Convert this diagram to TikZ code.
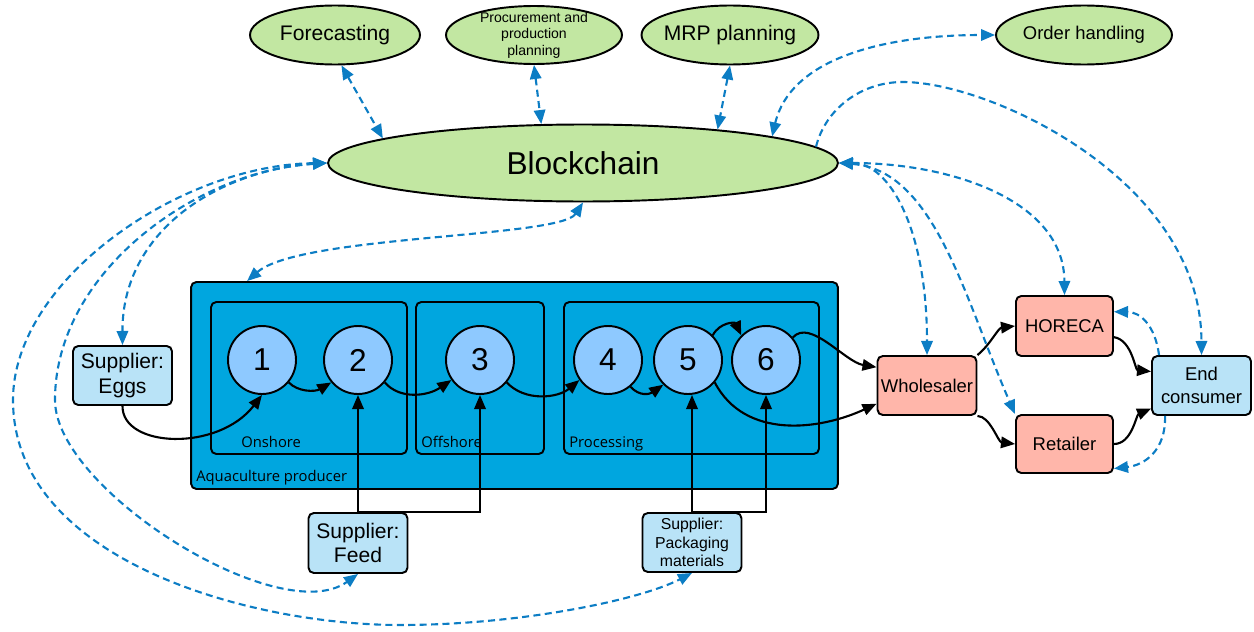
\documentclass[tikz,border=0pt]{standalone}
\usepackage{fontspec}
\setmainfont{Liberation Sans}
\newfontfamily\zonefont{Open Sans}
\usetikzlibrary{shapes.geometric,arrows.meta,calc}

\definecolor{leafgreen}{HTML}{C2E7A2}
\definecolor{aquablue}{HTML}{00A6DF}
\definecolor{stageblue}{HTML}{8EC9FF}
\definecolor{supplierblue}{HTML}{B9E3F7}
\definecolor{tradepink}{HTML}{FFB6AA}
\definecolor{infoblue}{HTML}{0C7DC4}

\begin{document}
\begin{tikzpicture}[x=0.02cm, y=-0.02cm,
  topell/.style={ellipse, draw, line width=1.1pt, fill=leafgreen, inner sep=0pt,
    minimum width=3.52cm, minimum height=1.18cm},
  planlabel/.style={align=center, font=\fontsize{12}{14}\selectfont},
  stage/.style={circle, draw, line width=1.1pt, fill=stageblue, minimum size=1.36cm,
    inner sep=0pt, font=\fontsize{18}{20}\selectfont},
  zone/.style={draw, line width=1.1pt, rounded corners=3pt, inner sep=0pt},
  zonename/.style={anchor=base west, inner sep=0pt, font=\zonefont\fontsize{8.4}{10}\selectfont},
  supplier/.style={draw, line width=1.1pt, fill=supplierblue, rounded corners=3pt,
    minimum width=1.98cm, minimum height=1.18cm, inner sep=0pt, align=center},
  trade/.style={supplier, fill=tradepink},
  flow/.style={line width=1.2pt, -{Triangle[length=8pt,width=6.5pt]}},
  info/.style={line width=1.2pt, infoblue, dash pattern=on 4pt off 2.5pt},
  infoboth/.style={info, {Triangle[length=8pt,width=6.5pt]}-{Triangle[length=8pt,width=6.5pt]}},
  infoto/.style={info, -{Triangle[length=8pt,width=6.5pt]}}
]
\useasboundingbox (0,0) rectangle (1254,632);

% planning functions and the shared ledger
\node[topell, minimum width=3.4cm,
  label={[planlabel]center:Forecasting}] (fc) at (335,35) {};
\node[topell, minimum height=1.16cm,
  label={[planlabel, font=\fontsize{8}{9.4}\selectfont]center:Procurement and\\production\\planning}] (pp) at (534,35) {};
\node[topell, minimum width=3.54cm,
  label={[planlabel]center:MRP planning}] (mrp) at (730,35) {};
\node[topell,
  label={[planlabel, font=\fontsize{10.5}{12}\selectfont]center:Order handling}] (oh) at (1084,35) {};
\node[topell, minimum width=10.2cm, minimum height=1.54cm,
  font=\fontsize{18}{20}\selectfont] (bc) at (583,163) {Blockchain};

% producer with its three sites
\node[zone, fill=aquablue, minimum width=12.94cm, minimum height=4.14cm] (aq) at (514.5,385.5) {};
\node[zone, minimum width=3.92cm, minimum height=3.04cm] (onshore) at (309,378) {};
\node[zone, minimum width=2.56cm, minimum height=3.04cm] (offshore) at (480,378) {};
\node[zone, minimum width=5.1cm, minimum height=3.04cm] (processing) at (691.5,378) {};
\node[zonename] (aqname) at (196,481) {Aquaculture producer};
\node[zonename] (onname) at (241,447) {Onshore};
\node[zonename] (offname) at (421,447) {Offshore};
\node[zonename] (procname) at (569,447) {Processing};

% process stages
\node[stage] (c1) at (262,360) {1};
\node[stage] (c2) at (358,360) {2};
\node[stage] (c3) at (480,360) {3};
\node[stage] (c4) at (608,360) {4};
\node[stage] (c5) at (688,360) {5};
\node[stage] (c6) at (766,360) {6};

% suppliers and downstream actors
\node[supplier, font=\fontsize{12}{14}\selectfont] (eggs) at (122.5,375.5) {Supplier:\\Eggs};
\node[supplier, minimum height=1.2cm, font=\fontsize{12}{14}\selectfont] (feed) at (358,543) {Supplier:\\Feed};
\node[supplier, font=\fontsize{9}{10.6}\selectfont] (pack) at (692,542.5) {Supplier:\\Packaging\\materials};
\node[trade, font=\fontsize{10.5}{12}\selectfont] (whole) at (927,385.5) {Wholesaler};
\node[trade, minimum width=1.94cm, minimum height=1.2cm, font=\fontsize{10.5}{12}\selectfont] (hor) at (1064.5,326) {HORECA};
\node[trade, minimum width=1.94cm, minimum height=1.16cm, font=\fontsize{10.5}{12}\selectfont] (ret) at (1064.5,444) {Retailer};
\node[supplier, font=\fontsize{10.5}{13}\selectfont] (end) at (1201.5,385.5) {End\\consumer};

% material flow
\draw[flow] (eggs.south) .. controls (122,448) and (218,452) .. (c1.south);
\draw[flow] (c1.-40) .. controls (298,392) and (315,392) .. (c2.-140);
\draw[flow] (c2.-40) .. controls (400,400) and (428,396) .. (c3.-145);
\draw[flow] (c3.-40) .. controls (525,402) and (558,398) .. (c4.-145);
\draw[flow] (c4.-50) .. controls (640,397) and (650,394) .. (c5.-135);
\draw[flow] (c5.45) .. controls (720,322) and (735,322) .. (c6.135);
\draw[flow] (c6.40) .. controls (810,318) and (845,362) .. ($(whole.north west)!0.2!(whole.south west)$);
\draw[flow] (c5.-40) .. controls (745,440) and (820,430) .. ($(whole.north west)!0.8!(whole.south west)$);
\draw[flow] (feed.north) -- (c2.south);
\draw[flow] (feed.north) -| (c3.south);
\draw[flow] (pack.north) -- (pack.north |- c5.south);
\draw[flow] (pack.north) -| (c6.south);
\draw[flow] (whole.north east) .. controls (990,345) and (998,328) .. (hor.west);
\draw[flow] (whole.south east) .. controls (990,416) and (998,442) .. (ret.west);
\draw[flow] ($(hor.north east)!0.68!(hor.south east)$) .. controls (1132,340) and (1135,370) .. ($(end.north west)!0.27!(end.south west)$);
\draw[flow] (ret.east) .. controls (1132,444) and (1136,415) .. ($(end.north west)!0.88!(end.south west)$);

% information flow
\draw[infoboth] (fc.-78) -- (bc.173.5);
\draw[infoboth] (pp.south) -- (bc.137);
\draw[infoboth] (mrp.south) -- (bc.14);
\draw[infoboth] (bc.8.5) .. controls (790,60) and (880,35) .. (oh.west);
\draw[infoto] (bc.4) .. controls (825,110) and (860,82) .. (903,82)
  .. controls (990,82) and (1201,180) .. (end.north);
\draw[infoboth] (bc.east) .. controls (890,163) and (927,230) .. (whole.north);
\draw[infoboth] (bc.east) .. controls (935,170) and (965,300) .. (ret.north west);
\draw[infoboth] (bc.east) .. controls (950,163) and (1064,200) .. (hor.north);
\draw[infoboth] (bc.south) .. controls (560,238) and (300,235) .. ($(aq.north west)+(57,0)$);
\draw[infoboth] (bc.west) .. controls (220,170) and (122,230) .. (eggs.north);
\draw[infoboth] (bc.west) .. controls (200,170) and (55,270) .. (55,400)
  .. controls (55,490) and (280,630) .. (feed.south);
\draw[infoboth] (bc.west) .. controls (180,165) and (13,280) .. (13,400)
  .. controls (13,560) and (250,625) .. (400,625)
  .. controls (520,625) and (640,600) .. (pack.south);
\draw[infoto] ($(end.north west)+(8,0)$) .. controls (1155,325) and (1140,312) .. ($(hor.north east)!0.27!(hor.south east)$);
\draw[infoto] ($(end.south west)+(14,0)$) .. controls (1166,450) and (1145,465) .. ($(ret.north east)!0.91!(ret.south east)$);
\end{tikzpicture}
\end{document}
